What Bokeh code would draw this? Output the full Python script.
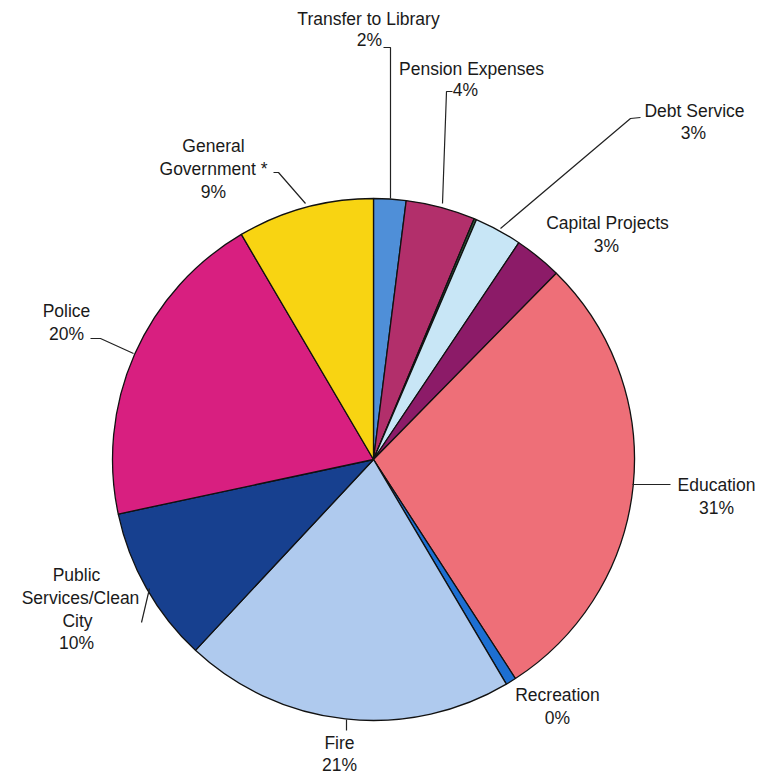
import numpy as np
from bokeh.plotting import figure
from bokeh.models import Range1d, ColumnDataSource
from bokeh.core.properties import value
from bokeh.embed import file_html
from bokeh.resources import INLINE

# ---- data ----
categories = ["Transfer to Library", "Pension Expenses", "Other", "Debt Service",
              "Capital Projects", "Education", "Recreation", "Fire",
              "Public Services/Clean City", "Police", "General Government *"]
shares = [2.0, 4.3, 0.15, 2.95, 2.95, 28.5, 0.65, 20.45, 9.7, 19.9, 8.45]
pct_labels = ["2%", "4%", "", "3%", "3%", "31%", "0%", "21%", "10%", "20%", "9%"]
colors = ["#4f8fd8", "#b22f6b", "#2f5a3c", "#c8e6f6", "#8c1b68", "#ee6f78",
          "#1d6fd2", "#afcaee", "#17408f", "#d81f80", "#f8d412"]

W, H = 770, 773


def px(x):
    return x


def py(y):
    return H - y


p = figure(width=W, height=H, output_backend="svg", toolbar_location=None,
           x_range=Range1d(0, W), y_range=Range1d(0, H), min_border=0)
p.axis.visible = False
p.grid.visible = False
p.outline_line_color = None
p.background_fill_color = "white"

cx, cy, r = px(373), py(459), 261
vals = np.array(shares, dtype=float)
cum = np.concatenate([[0], np.cumsum(vals)]) / vals.sum()
start = np.pi / 2 - cum[:-1] * 2 * np.pi
end = np.pi / 2 - cum[1:] * 2 * np.pi
src = ColumnDataSource(dict(start=start, end=end, color=colors, cat=categories))
p.wedge(x=cx, y=cy, radius=r, start_angle="start", end_angle="end",
        direction="clock", fill_color="color", line_color="#111111",
        line_width=1.3, source=src)

# ---- leader lines (page coordinates) ----
leaders = [
    [(383, 47), (390, 47), (390, 198)],          # Transfer
    [(452, 91), (446, 91), (442, 203)],          # Pension
    [(640, 117), (630, 118), (500, 228)],        # Debt
    [(632, 484), (670, 484)],                    # Education
    [(346, 719), (346, 730)],                    # Fire
    [(141, 622), (149, 588)],                    # Public
    [(90, 338), (100, 338), (133, 353)],         # Police
    [(273, 172), (278, 172), (305, 203)],        # Gen Gov
]
for pts in leaders:
    p.line([px(a) for a, b in pts], [py(b) for a, b in pts],
           line_color="#222222", line_width=1.2)

# ---- labels: (text, center x, center y) in page coords ----
lines = [
    (categories[0], 368, 18), (pct_labels[0], 369, 39),
    ("Pension Expenses", 471, 68), (pct_labels[1], 465, 89),
    (categories[3], 694, 110), (pct_labels[3], 693, 132),
    (categories[4], 607, 222), (pct_labels[4], 606, 245),
    (categories[5], 716, 484), (pct_labels[5], 716, 507),
    (categories[6], 557, 694), (pct_labels[6], 557, 717),
    (categories[7], 339, 742), (pct_labels[7], 339, 764),
    ("Public", 76, 574), ("Services/Clean", 80, 597), ("City", 77, 620),
    (pct_labels[8], 76, 642),
    (categories[9], 66, 310), (pct_labels[9], 66, 333),
    ("General", 213, 145), ("Government *", 213, 168), (pct_labels[10], 213, 191),
]
p.text(x=[px(a) for _, a, _ in lines], y=[py(b) for _, _, b in lines],
       text=[t for t, _, _ in lines], text_align="center",
       text_baseline="middle", text_font=value("Liberation Sans"),
       text_font_size="17.5px", text_color="#1a1a1a")

open("out.html", "w").write(file_html(p, INLINE))
